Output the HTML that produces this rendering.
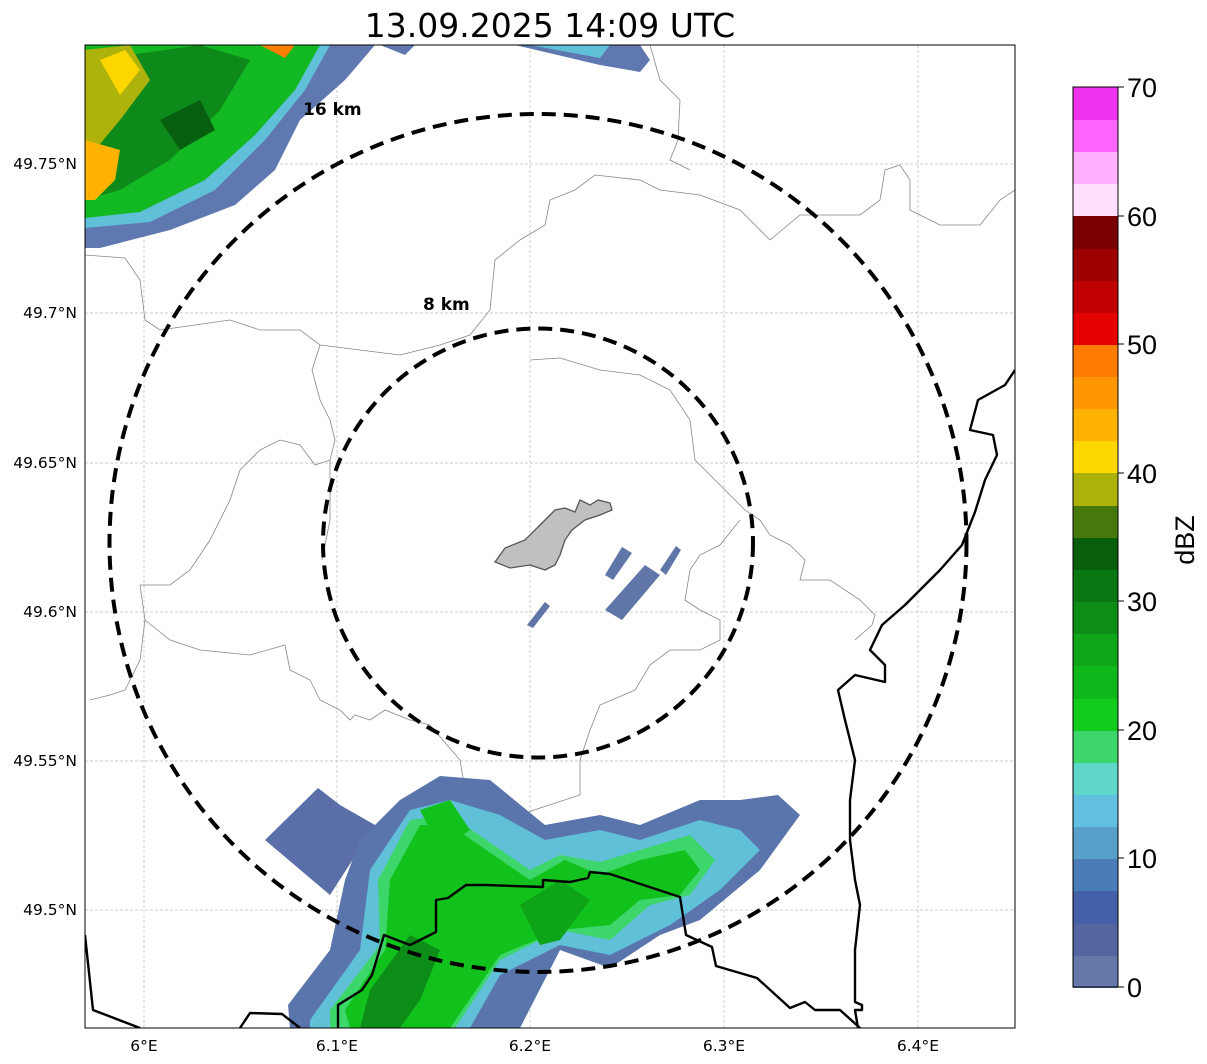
<!DOCTYPE html>
<html><head><meta charset="utf-8"><style>
body{margin:0;background:#fff;}
svg{display:block;font-family:"Liberation Sans",sans-serif;}
.dv{font-family:"DejaVu Sans",sans-serif;}
</style></head><body>
<svg width="1207" height="1064" viewBox="0 0 1207 1064">
<defs><clipPath id="m"><rect x="85" y="45" width="930" height="983"/></clipPath></defs>
<rect width="1207" height="1064" fill="#fff"/>
<text class="dv" x="550" y="37" font-size="33" text-anchor="middle">13.09.2025 14:09 UTC</text>
<g clip-path="url(#m)">
<g stroke="#bbb" stroke-width="0.7" stroke-dasharray="3,2">
<line x1="144" y1="45" x2="144" y2="1028"/><line x1="337" y1="45" x2="337" y2="1028"/><line x1="530" y1="45" x2="530" y2="1028"/><line x1="724" y1="45" x2="724" y2="1028"/><line x1="918" y1="45" x2="918" y2="1028"/>
<line x1="85" y1="164" x2="1015" y2="164"/><line x1="85" y1="313" x2="1015" y2="313"/><line x1="85" y1="463" x2="1015" y2="463"/><line x1="85" y1="612" x2="1015" y2="612"/><line x1="85" y1="761" x2="1015" y2="761"/><line x1="85" y1="910" x2="1015" y2="910"/>
</g>
<g fill="none" stroke="#888" stroke-width="0.8">
<path d="M85,255 L125,258 L140,280 L145,320 L160,330 L230,320 L260,330 L300,330 L320,345 L360,350 L400,355 L440,345 L470,335 L490,310 L495,260 L520,240 L545,225 L550,200 L575,190 L595,175 L640,180 L660,190 L700,195 L740,210 L770,240 L800,215 L860,215 L880,200 L885,170 L900,165 L910,180 L910,210 L940,225 L980,225 L1000,200 L1015,190"/>
<path d="M650,45 L660,80 L680,100 L678,140 L670,160 L690,170"/>
<path d="M320,345 L312,370 L320,400 L330,420 L335,440 L330,460 L315,465 L300,445 L280,440 L260,450 L240,470 L230,500 L210,540 L190,570 L170,585 L140,585 L145,620 L140,660 L125,690 L110,695 L90,700"/>
<path d="M330,460 L330,520 L322,560"/>
<path d="M145,620 L170,640 L200,650 L250,655 L285,645 L290,670 L310,680 L320,700 L340,710 L350,720 L355,715 L370,720 L385,710 L410,720 L430,725 L460,760 L465,790 L460,800"/>
<path d="M530,360 L560,358 L600,370 L640,375 L670,390 L690,420 L695,460 L715,480 L735,500 L745,510 L760,520 L770,535 L790,545 L805,560 L800,580 L830,580 L860,600 L875,615 L872,625 L855,640"/>
<path d="M740,520 L720,545 L700,555 L690,570 L685,600 L700,610 L720,620 L720,640 L700,650 L670,650 L650,665 L635,690 L600,705 L590,730 L580,760 L580,795 L540,808 L520,815 L500,810"/>
</g>
<polygon points="85,45 375,45 345,80 300,120 275,170 235,205 170,230 100,248 85,248" fill="#5f78b0"/>
<polygon points="85,45 330,45 305,90 265,140 215,190 150,222 85,228" fill="#5fc0d8"/>
<polygon points="85,45 320,45 295,90 255,135 205,180 140,212 85,218" fill="#12b922"/>
<polygon points="95,60 200,45 250,60 220,110 170,160 120,190 85,200 85,90" fill="#0d8a1a"/>
<polygon points="85,50 130,45 150,80 120,120 95,150 85,160" fill="#adb20c"/>
<polygon points="85,140 120,150 115,180 95,200 85,200" fill="#ffb300"/>
<polygon points="100,60 125,50 140,70 120,95" fill="#ffd700"/>
<polygon points="260,45 295,45 285,58" fill="#ff7f00"/>
<polygon points="160,120 200,100 215,130 180,150" fill="#066010"/>
<polygon points="380,45 415,45 405,55" fill="#5f78b0"/>
<polygon points="515,45 640,45 650,60 640,72 600,65" fill="#5f78b0"/>
<polygon points="530,45 610,45 600,58" fill="#5fc0d8"/>
<g fill="#6075a8">
<polygon points="605,575 622,547 632,553 613,580"/>
<polygon points="605,610 645,565 660,575 622,620"/>
<polygon points="660,570 676,546 681,550 666,575"/>
<polygon points="527,625 545,602 550,606 533,628"/>
</g>
<polygon points="265,840 318,788 340,805 375,825 330,895" fill="#5a6fa8"/>
<polygon points="288,1005 330,950 345,880 360,840 400,800 440,776 490,780 545,825 600,815 640,825 700,800 740,800 778,795 800,815 760,870 700,920 660,935 610,968 560,950 520,1028 290,1028" fill="#5a74ac"/>
<polygon points="310,1020 360,950 370,870 410,810 450,800 500,815 545,840 600,830 640,840 700,820 740,830 760,850 720,890 670,925 610,955 560,945 500,975 470,1028 310,1028" fill="#5fc0d8"/>
<polygon points="330,1010 380,945 378,880 410,820 450,815 530,870 560,855 600,862 640,850 690,835 715,860 690,895 650,905 610,940 560,930 500,960 455,1028 330,1028" fill="#3dd66a"/>
<polygon points="345,1010 385,950 390,880 420,825 450,825 530,880 565,860 600,875 640,860 685,850 700,870 680,895 640,900 610,925 560,930 500,955 450,1028 350,1028" fill="#12c21c"/>
<polygon points="370,990 410,935 440,950 420,1000 400,1028 360,1028" fill="#0c8d18"/>
<polygon points="520,905 560,880 590,900 560,940 540,945" fill="#0da417"/>
<polygon points="420,810 450,800 470,830 440,850" fill="#12c21c"/>
<polygon points="495,562 505,548 525,540 540,525 555,510 565,508 575,512 580,500 590,505 598,500 610,503 612,510 600,515 585,520 572,530 565,540 560,555 555,565 545,570 530,565 510,568" fill="#c0c0c0" stroke="#555" stroke-width="1.3"/>
<g fill="none" stroke="#000" stroke-width="2.4" stroke-linejoin="round">
<path d="M1015,370 L1005,385 L978,400 L970,430 L993,435 L997,455 L985,480 L975,512 L962,545 L940,570 L922,588 L905,605 L882,625 L870,650 L885,665 L885,682 L855,675 L838,690 L845,720 L855,760 L850,800 L850,840 L855,880 L860,905 L855,950 L855,1002 L862,1005 L862,1010 L855,1010 L858,1028"/>
<path d="M338,1028 L338,1005 L362,990 L372,975 L384,935 L410,945 L436,932 L436,900 L448,898 L466,885 L485,885 L543,887 L543,880 L570,882 L588,878 L590,872 L610,874 L680,897 L686,935 L712,947 L716,966 L757,978 L790,1008 L805,1002 L815,1010 L840,1010 L860,1028"/>
<path d="M85,935 L93,1010 L140,1028"/>
<path d="M240,1028 L250,1013 L282,1014 L300,1028"/>
</g>
<g fill="none" stroke="#000" stroke-width="4" stroke-dasharray="14,8">
<ellipse cx="538" cy="543" rx="215" ry="214.5"/>
<ellipse cx="538" cy="543" rx="428.5" ry="429"/>
</g>
</g>
<text class="dv" x="303" y="115" font-size="17" font-weight="bold">16 km</text>
<text class="dv" x="423" y="310" font-size="17" font-weight="bold">8 km</text>
<rect x="85" y="45" width="930" height="983" fill="none" stroke="#000" stroke-width="1"/>
<g class="dv" font-size="15.5" text-anchor="middle">
<text x="144" y="1051">6°E</text><text x="337" y="1051">6.1°E</text><text x="530" y="1051">6.2°E</text><text x="724" y="1051">6.3°E</text><text x="918" y="1051">6.4°E</text>
</g>
<g class="dv" font-size="15.5" text-anchor="end">
<text x="77" y="169">49.75°N</text><text x="77" y="318">49.7°N</text><text x="77" y="468">49.65°N</text><text x="77" y="617">49.6°N</text><text x="77" y="766">49.55°N</text><text x="77" y="915">49.5°N</text>
</g>
<g>
<rect x="1073" y="955" width="45" height="33" fill="#6677aa"/>
<rect x="1073" y="923" width="45" height="33" fill="#5465a0"/>
<rect x="1073" y="891" width="45" height="33" fill="#4460a8"/>
<rect x="1073" y="858" width="45" height="33" fill="#4a7db8"/>
<rect x="1073" y="826" width="45" height="33" fill="#58a0cc"/>
<rect x="1073" y="794" width="45" height="33" fill="#62c0e0"/>
<rect x="1073" y="762" width="45" height="33" fill="#5ed6c8"/>
<rect x="1073" y="730" width="45" height="33" fill="#3dd66a"/>
<rect x="1073" y="698" width="45" height="33" fill="#12cc1c"/>
<rect x="1073" y="666" width="45" height="33" fill="#0fb81a"/>
<rect x="1073" y="633" width="45" height="33" fill="#0ea618"/>
<rect x="1073" y="601" width="45" height="33" fill="#0d8c16"/>
<rect x="1073" y="569" width="45" height="33" fill="#0a7812"/>
<rect x="1073" y="537" width="45" height="33" fill="#075f0c"/>
<rect x="1073" y="505" width="45" height="33" fill="#47780c"/>
<rect x="1073" y="473" width="45" height="33" fill="#adb20a"/>
<rect x="1073" y="440" width="45" height="33" fill="#ffd700"/>
<rect x="1073" y="408" width="45" height="33" fill="#ffb300"/>
<rect x="1073" y="376" width="45" height="33" fill="#ff9800"/>
<rect x="1073" y="344" width="45" height="33" fill="#ff7c00"/>
<rect x="1073" y="312" width="45" height="33" fill="#e50000"/>
<rect x="1073" y="280" width="45" height="33" fill="#c00000"/>
<rect x="1073" y="248" width="45" height="33" fill="#9c0000"/>
<rect x="1073" y="216" width="45" height="33" fill="#780000"/>
<rect x="1073" y="183" width="45" height="33" fill="#ffe0ff"/>
<rect x="1073" y="151" width="45" height="33" fill="#ffb0ff"/>
<rect x="1073" y="119" width="45" height="33" fill="#ff66ff"/>
<rect x="1073" y="87" width="45" height="33" fill="#ee33ee"/>
<rect x="1073" y="87" width="45" height="900" fill="none" stroke="#000" stroke-width="1"/>
</g>
<g stroke="#000" stroke-width="1">
<line x1="1118" y1="987" x2="1124" y2="987"/><line x1="1118" y1="858" x2="1124" y2="858"/><line x1="1118" y1="730" x2="1124" y2="730"/><line x1="1118" y1="601" x2="1124" y2="601"/><line x1="1118" y1="473" x2="1124" y2="473"/><line x1="1118" y1="344" x2="1124" y2="344"/><line x1="1118" y1="216" x2="1124" y2="216"/><line x1="1118" y1="87" x2="1124" y2="87"/>
</g>
<g font-size="27">
<text x="1127" y="997">0</text><text x="1127" y="868">10</text><text x="1127" y="740">20</text><text x="1127" y="611">30</text><text x="1127" y="483">40</text><text x="1127" y="354">50</text><text x="1127" y="226">60</text><text x="1127" y="97">70</text>
</g>
<text x="1194" y="540" font-size="27" text-anchor="middle" transform="rotate(-90 1194 540)">dBZ</text>
</svg>
</body></html>
